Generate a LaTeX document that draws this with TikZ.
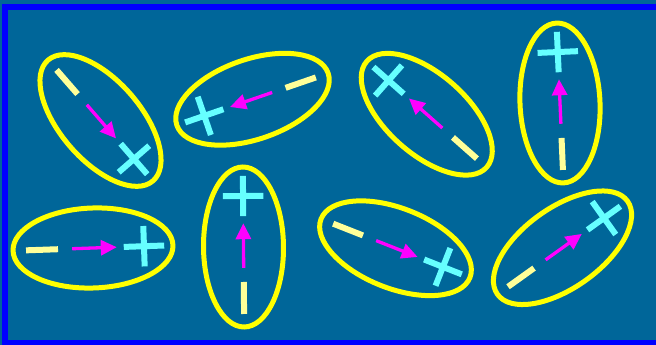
\documentclass[tikz,border=0pt]{standalone}
\usepackage{xcolor}
\usetikzlibrary{shapes.geometric}
\usetikzlibrary{shapes.misc}
\usetikzlibrary{arrows.meta}
\definecolor{seabg}{HTML}{006699}
\definecolor{framecol}{RGB}{0,0,255}
\definecolor{shellcol}{RGB}{255,255,0}
\definecolor{negcol}{HTML}{FFFF99}
\definecolor{poscol}{HTML}{66FFFF}
\definecolor{momentcol}{RGB}{255,0,255}

\begin{document}
\begin{tikzpicture}[x=1pt, y=1pt,
  shell/.style={ellipse, draw=shellcol, line width=5pt, minimum width=160pt, minimum height=80pt, inner sep=0pt},
  negcharge/.style={rectangle, fill=negcol, minimum width=32pt, minimum height=6pt, inner sep=0pt},
  poscharge/.style={cross out, draw=poscol, line width=6pt, minimum size=22.6pt, inner sep=0pt, rotate=45},
  moment/.style={momentcol, line width=3.3pt, -{Triangle[length=16pt,width=15pt]}, shorten <=14pt, shorten >=7pt}]
  \clip (0,0) rectangle (656,345);
  \fill[seabg] (0,0) rectangle (656,345);
  \draw[framecol, line width=6pt] (5,2) rectangle (700,338.3);

  \begin{scope}[shift={(100.5,224.5)}, rotate=-49, transform shape]
    \node[shell] (e1) at (0,0) {};
    \node[negcharge] (n1) at (-51,0) {};
    \node[poscharge] (p1) at (51,0) {};
    \draw[moment] (n1) -- (p1);
  \end{scope}

  \begin{scope}[shift={(252.5,245.75)}, rotate=199, transform shape]
    \node[shell] (e2) at (0,0) {};
    \node[negcharge] (n2) at (-51,0) {};
    \node[poscharge] (p2) at (51,0) {};
    \draw[moment] (n2) -- (p2);
  \end{scope}

  \begin{scope}[shift={(426.75,230.75)}, rotate=138.5, transform shape]
    \node[shell] (e3) at (0,0) {};
    \node[negcharge] (n3) at (-51,0) {};
    \node[poscharge] (p3) at (51,0) {};
    \draw[moment] (n3) -- (p3);
  \end{scope}

  \begin{scope}[shift={(560,242)}, rotate=92.5, transform shape]
    \node[shell] (e4) at (0,0) {};
    \node[negcharge] (n4) at (-51,0) {};
    \node[poscharge] (p4) at (51,0) {};
    \draw[moment] (n4) -- (p4);
  \end{scope}

  \begin{scope}[shift={(93,97)}, rotate=2, transform shape]
    \node[shell] (e5) at (0,0) {};
    \node[negcharge] (n5) at (-51,0) {};
    \node[poscharge] (p5) at (51,0) {};
    \draw[moment] (n5) -- (p5);
  \end{scope}

  \begin{scope}[shift={(243.5,98)}, rotate=90.5, transform shape]
    \node[shell] (e6) at (0,0) {};
    \node[negcharge] (n6) at (-51,0) {};
    \node[poscharge] (p6) at (51,0) {};
    \draw[moment] (n6) -- (p6);
  \end{scope}

  \begin{scope}[shift={(395.5,96.75)}, rotate=-21.5, transform shape]
    \node[shell] (e7) at (0,0) {};
    \node[negcharge] (n7) at (-51,0) {};
    \node[poscharge] (p7) at (51,0) {};
    \draw[moment] (n7) -- (p7);
  \end{scope}

  \begin{scope}[shift={(562.5,97.25)}, rotate=35.6, transform shape]
    \node[shell] (e8) at (0,0) {};
    \node[negcharge] (n8) at (-51,0) {};
    \node[poscharge] (p8) at (51,0) {};
    \draw[moment] (n8) -- (p8);
  \end{scope}
\end{tikzpicture}
\end{document}
